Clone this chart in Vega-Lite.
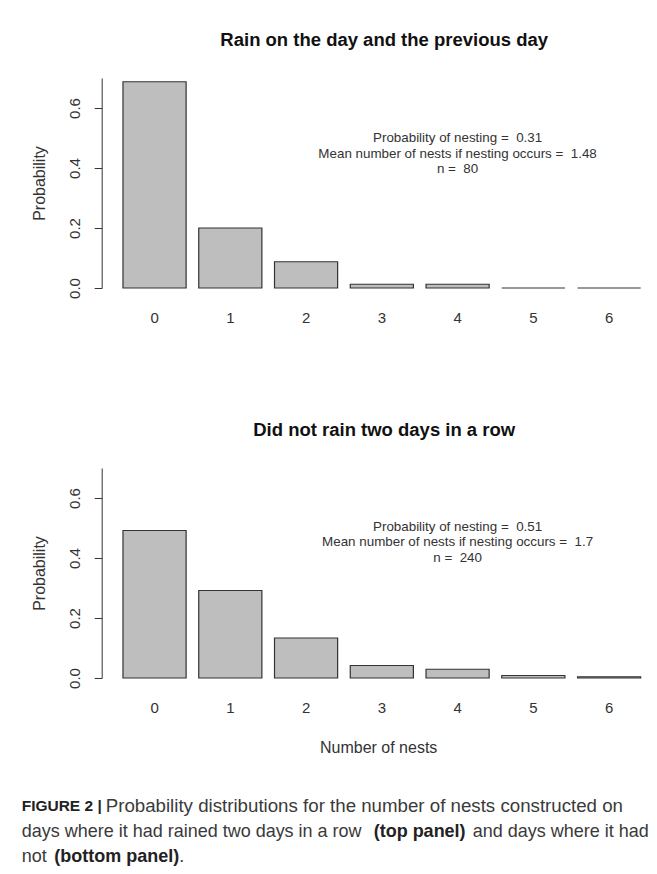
{
  "$schema": "https://vega.github.io/schema/vega-lite/v6.json",
  "background": "white",
  "padding": {"left": 21.7, "top": 30, "right": 0, "bottom": 0},
  "datasets": {
    "bars": [
      {"panel": "top", "nests": 0, "prob": 0.6875},
      {"panel": "top", "nests": 1, "prob": 0.2},
      {"panel": "top", "nests": 2, "prob": 0.0875},
      {"panel": "top", "nests": 3, "prob": 0.0125},
      {"panel": "top", "nests": 4, "prob": 0.0125},
      {"panel": "top", "nests": 5, "prob": 0},
      {"panel": "top", "nests": 6, "prob": 0},
      {"panel": "bottom", "nests": 0, "prob": 0.4917},
      {"panel": "bottom", "nests": 1, "prob": 0.2917},
      {"panel": "bottom", "nests": 2, "prob": 0.1333},
      {"panel": "bottom", "nests": 3, "prob": 0.0417},
      {"panel": "bottom", "nests": 4, "prob": 0.0292},
      {"panel": "bottom", "nests": 5, "prob": 0.0083},
      {"panel": "bottom", "nests": 6, "prob": 0.0042}
    ],
    "notes": [
      {"panel": "top", "note": "Probability of nesting = \u00a00.31\nMean number of nests if nesting occurs = \u00a01.48\nn = \u00a080"},
      {"panel": "bottom", "note": "Probability of nesting = \u00a00.51\nMean number of nests if nesting occurs = \u00a01.7\nn = \u00a0240"}
    ],
    "caption": [
      {"line": 1, "part": "b0", "seg": "FIGURE 2 |"},
      {"line": 1, "part": "n1", "seg": "Probability distributions for the number of nests constructed on"},
      {"line": 2, "part": "n0", "seg": "days where it had rained two days in a row"},
      {"line": 2, "part": "b2", "seg": "(top panel)"},
      {"line": 2, "part": "n2", "seg": "and days where it had"},
      {"line": 3, "part": "n0", "seg": "not"},
      {"line": 3, "part": "b3", "seg": "(bottom panel)"},
      {"line": 3, "part": "n3", "seg": "."}
    ]
  },
  "config": {
    "view": {"stroke": null},
    "font": "Liberation Sans",
    "axis": {
      "labelFont": "Liberation Sans",
      "titleFont": "Liberation Sans",
      "labelColor": "#333",
      "titleColor": "#333",
      "domainColor": "#333",
      "tickColor": "#333",
      "grid": false,
      "labelFontSize": 15,
      "titleFontSize": 16,
      "titleFontWeight": "normal"
    },
    "title": {
      "font": "Liberation Sans",
      "fontSize": 18.5,
      "fontWeight": "bold",
      "color": "#111",
      "anchor": "middle",
      "frame": "group",
      "baseline": "alphabetic",
      "offset": 29,
      "dx": 6
    }
  },
  "spacing": 37,
  "vconcat": [
    {
      "spacing": 94,
      "vconcat": [
        {
          "title": "Rain on the day and the previous day",
          "width": 553,
          "height": 210,
          "layer": [
            {
              "data": {"name": "bars"},
              "transform": [{"filter": "datum.panel === 'top'"}],
              "mark": {"type": "bar", "fill": "#bebebe", "stroke": "#333", "strokeWidth": 1.2},
              "encoding": {
                "x": {
                  "field": "nests", "type": "ordinal",
                  "scale": {"type": "band", "paddingInner": 0.1667, "paddingOuter": 0.233, "align": 0.603},
                  "axis": {"title": null, "labelAngle": 0, "ticks": false, "tickSize": 0, "domain": false, "labelPadding": 22.5}
                },
                "y": {
                  "field": "prob", "type": "quantitative",
                  "scale": {"domain": [0, 0.7], "nice": false},
                  "axis": {
                    "title": "Probability",
                    "values": [0, 0.1, 0.2, 0.3, 0.4, 0.5, 0.6, 0.7],
                    "labelExpr": "round(datum.value * 10) % 2 === 0 ? format(datum.value, '.1f') : ''",
                    "labelAngle": 270, "labelAlign": "center", "labelBaseline": "alphabetic",
                    "labelPadding": 15, "tickSize": 7.5, "labelOverlap": false, "labelFlush": false,
                    "titlePadding": 19.4
                  }
                }
              }
            },
            {
              "data": {"name": "notes"},
              "transform": [{"filter": "datum.panel === 'top'"}],
              "mark": {"type": "text", "lineBreak": "\n", "lineHeight": 15.3, "fontSize": 13.4, "align": "center", "baseline": "middle", "color": "#333", "font": "Liberation Sans"},
              "encoding": {
                "x": {"datum": 4, "type": "ordinal"},
                "y": {"datum": 0.499, "type": "quantitative"},
                "text": {"field": "note"}
              }
            }
          ]
        },
        {
          "title": "Did not rain two days in a row",
          "width": 553,
          "height": 210,
          "layer": [
            {
              "data": {"name": "bars"},
              "transform": [{"filter": "datum.panel === 'bottom'"}],
              "mark": {"type": "bar", "fill": "#bebebe", "stroke": "#333", "strokeWidth": 1.2},
              "encoding": {
                "x": {
                  "field": "nests", "type": "ordinal",
                  "scale": {"type": "band", "paddingInner": 0.1667, "paddingOuter": 0.233, "align": 0.603},
                  "axis": {"title": "Number of nests", "labelAngle": 0, "ticks": false, "tickSize": 0, "domain": false, "labelPadding": 22.5, "titlePadding": 24}
                },
                "y": {
                  "field": "prob", "type": "quantitative",
                  "scale": {"domain": [0, 0.7], "nice": false},
                  "axis": {
                    "title": "Probability",
                    "values": [0, 0.1, 0.2, 0.3, 0.4, 0.5, 0.6, 0.7],
                    "labelExpr": "round(datum.value * 10) % 2 === 0 ? format(datum.value, '.1f') : ''",
                    "labelAngle": 270, "labelAlign": "center", "labelBaseline": "alphabetic",
                    "labelPadding": 15, "tickSize": 7.5, "labelOverlap": false, "labelFlush": false,
                    "titlePadding": 19.4
                  }
                }
              }
            },
            {
              "data": {"name": "notes"},
              "transform": [{"filter": "datum.panel === 'bottom'"}],
              "mark": {"type": "text", "lineBreak": "\n", "lineHeight": 15.3, "fontSize": 13.4, "align": "center", "baseline": "middle", "color": "#333", "font": "Liberation Sans"},
              "encoding": {
                "x": {"datum": 4, "type": "ordinal"},
                "y": {"datum": 0.503, "type": "quantitative"},
                "text": {"field": "note"}
              }
            }
          ]
        }
      ]
    },
    {
      "width": 553,
      "height": 77.4,
      "data": {"name": "caption"},
      "encoding": {
        "y": {"field": "line", "type": "ordinal", "axis": null},
        "x": {"datum": 0, "type": "quantitative", "scale": {"domain": [0, 1]}, "axis": null}
      },
      "layer": [
        {
          "transform": [{"filter": "datum.part === 'b0'"}],
          "mark": {"type": "text", "align": "left", "baseline": "middle", "fontSize": 15.5, "fontWeight": "bold", "color": "#222", "dx": -80},
          "encoding": {"text": {"field": "seg"}}
        },
        {
          "transform": [{"filter": "datum.part === 'n0'"}],
          "mark": {"type": "text", "align": "left", "baseline": "middle", "fontSize": 18, "color": "#3a3a3a", "dx": -80},
          "encoding": {"text": {"field": "seg"}}
        },
        {
          "transform": [{"filter": "datum.part === 'n1'"}],
          "mark": {"type": "text", "align": "left", "baseline": "middle", "fontSize": 18.7, "color": "#3a3a3a", "dx": 4},
          "encoding": {"text": {"field": "seg"}}
        },
        {
          "transform": [{"filter": "datum.part === 'b2'"}],
          "mark": {"type": "text", "align": "left", "baseline": "middle", "fontSize": 18, "fontWeight": "bold", "color": "#222", "dx": 272},
          "encoding": {"text": {"field": "seg"}}
        },
        {
          "transform": [{"filter": "datum.part === 'n2'"}],
          "mark": {"type": "text", "align": "left", "baseline": "middle", "fontSize": 18, "color": "#3a3a3a", "dx": 371},
          "encoding": {"text": {"field": "seg"}}
        },
        {
          "transform": [{"filter": "datum.part === 'b3'"}],
          "mark": {"type": "text", "align": "left", "baseline": "middle", "fontSize": 18, "fontWeight": "bold", "color": "#222", "dx": -47.4},
          "encoding": {"text": {"field": "seg"}}
        },
        {
          "transform": [{"filter": "datum.part === 'n3'"}],
          "mark": {"type": "text", "align": "left", "baseline": "middle", "fontSize": 18, "color": "#3a3a3a", "dx": 77.6},
          "encoding": {"text": {"field": "seg"}}
        }
      ]
    }
  ]
}
